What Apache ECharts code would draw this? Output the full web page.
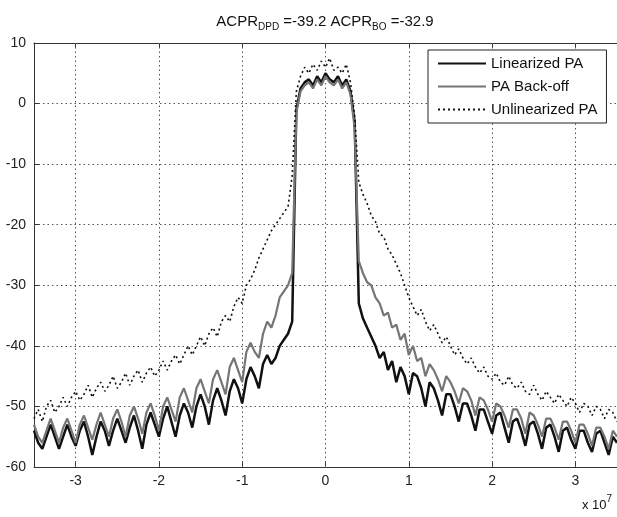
<!DOCTYPE html>
<html><head><meta charset="utf-8">
<script src="https://cdn.jsdelivr.net/npm/echarts@6/dist/echarts.min.js"></script>
<style>html,body{margin:0;padding:0;background:#fff}#c{width:617px;height:517px}</style>
</head><body><div id="c"></div>
<script>
// frequency (x 10^7 Hz)
const freq = [
-3.5,-3.45,-3.4,-3.35,-3.3,-3.25,-3.2,-3.15,-3.1,-3.05,
-3,-2.95,-2.9,-2.85,-2.8,-2.75,-2.7,-2.65,-2.6,-2.55,
-2.5,-2.45,-2.4,-2.35,-2.3,-2.25,-2.2,-2.15,-2.1,-2.05,
-2,-1.95,-1.9,-1.85,-1.8,-1.75,-1.7,-1.65,-1.6,-1.55,
-1.5,-1.45,-1.4,-1.35,-1.3,-1.25,-1.2,-1.15,-1.1,-1.05,
-1,-0.95,-0.9,-0.85,-0.8,-0.75,-0.7,-0.65,-0.6,-0.55,
-0.5,-0.45,-0.4,-0.35,-0.3,-0.25,-0.2,-0.15,-0.1,-0.05,
0,0.05,0.1,0.15,0.2,0.25,0.3,0.35,0.4,0.45,
0.5,0.55,0.6,0.65,0.7,0.75,0.8,0.85,0.9,0.95,
1,1.05,1.1,1.15,1.2,1.25,1.3,1.35,1.4,1.45,
1.5,1.55,1.6,1.65,1.7,1.75,1.8,1.85,1.9,1.95,
2,2.05,2.1,2.15,2.2,2.25,2.3,2.35,2.4,2.45,
2.5,2.55,2.6,2.65,2.7,2.75,2.8,2.85,2.9,2.95,
3,3.05,3.1,3.15,3.2,3.25,3.3,3.35,3.4,3.45,
3.5];

const linearizedPA = [
-54,-56,-57,-55,-53,-55,-57,-55,-53,-55,
-56.5,-54,-52.5,-55,-58,-55,-52.5,-54,-56.5,-54,
-52,-54,-56,-53.5,-51.5,-54,-57,-53,-51,-53,
-55,-52,-50,-52.5,-55,-51.5,-49.5,-51,-53.5,-50,
-48,-50,-53,-49,-47,-49,-51.5,-47.5,-45.5,-47,
-49.5,-45.5,-43.5,-45,-47,-43,-41.5,-43,-42,-40,
-39,-38,-36,-1,2.5,3.5,4,3,4.5,3.5,
5,4,3.5,4.5,3,4,2,-3,-33,-35.5,
-37,-38.5,-40,-42,-41,-44,-42.5,-46,-43.5,-45,
-48,-44.5,-45,-47,-50,-46,-47,-49,-51.5,-48,
-48,-50,-52.5,-49.5,-49.5,-51.5,-54,-50.5,-50.5,-52.5,
-54.5,-51.5,-51,-53.5,-56,-52.5,-52,-54,-56.5,-53,
-52.5,-54.5,-57,-53.5,-53,-55,-57.5,-54,-53.5,-55.5,
-57,-54,-54,-56,-57.5,-54.5,-54,-56,-58,-55,
-56];

const backoffPA = [
-53,-55,-56,-54,-52,-54,-56,-53.5,-52,-54,
-56,-53,-51.5,-53.5,-55.5,-53,-51,-53,-55,-52,
-50.5,-52.5,-55,-51.5,-50,-52,-54.5,-51,-49.5,-51.5,
-54,-50,-48.5,-50.5,-52.5,-48.5,-47,-49,-51,-47,
-45.5,-47.5,-49.5,-45.5,-44,-46,-48,-43.5,-42,-44,
-46,-41,-39.5,-41,-42,-38,-36,-37,-35,-32,
-31,-30,-28,-1.5,2,3,3.5,2.5,4,3,
4.5,3.5,3,4,2.5,3.5,1.5,-4,-26,-28,
-29.5,-30,-32,-33,-35,-34.5,-37,-36.5,-39,-38,
-41.5,-40,-42.5,-42,-45,-43,-44,-45.5,-47.5,-45,
-46,-47.5,-49.5,-47,-47.5,-49,-51.5,-48.5,-49,-50.5,
-52.5,-49.5,-50,-51.5,-53.5,-50.5,-50.5,-52,-54.5,-51,
-51.5,-53,-55,-52,-52,-53.5,-55.5,-52.5,-52.5,-54,
-56,-53,-53,-54.5,-56.5,-53.5,-53.5,-55,-57,-54,
-55];

const unlinearizedPA = [
-52,-50.5,-52.5,-50,-49,-51,-50,-48.5,-50,-48.5,
-47.5,-49,-48,-46.5,-48.5,-47,-46,-47.5,-46.5,-45,
-47,-46,-44.5,-46.5,-45,-44,-46,-44.5,-43.5,-45,
-44,-42.5,-44,-42.5,-41.5,-43,-41.5,-40,-41.5,-40,
-38.5,-40,-38,-37,-38.5,-36,-35,-36,-33.5,-32,
-33,-30,-29,-27.5,-25.5,-24,-22.5,-21,-20,-19,
-18,-17,-12,2,4.5,6,5,6.5,5.5,7,
6,7.5,5.5,6,5,6.5,3.5,-2,-13,-15,
-16.5,-18.5,-19.5,-21.5,-22,-24,-25,-26.5,-28,-30,
-32,-33.5,-35,-34,-36,-37.5,-36.5,-38,-39.5,-38.5,
-40,-41.5,-40.5,-42,-43,-42,-43.5,-44.5,-43.5,-45,
-45.5,-44.5,-46,-46.5,-45,-46.5,-47,-46,-47.5,-48,
-46.5,-48,-49,-47.5,-48.5,-49.5,-48,-49,-50,-48.5,
-49.5,-51,-49.5,-50,-51.5,-50,-50.5,-52,-50.5,-51,
-52.5];

const seriesNames = ['Linearized PA', 'PA Back-off', 'Unlinearized PA'];
const xTicks = [-3, -2, -1, 0, 1, 2, 3];
const xRange = [-3.5, 3.5];
const yRange = [-60, 10];
const yStep = 10;
const titleParts = ['ACPR', 'DPD', ' =-39.2 ACPR', 'BO', ' =-32.9'];

const FONT = '"Liberation Sans", Arial, sans-serif';
const pair = arr => freq.map((f, i) => [f, arr[i]]);

const chart = echarts.init(document.getElementById('c'), null, {renderer: 'canvas'});
const gridDash = [1.5, 3];
const axisCommon = {
  type: 'value', min: xRange[0], max: xRange[1],
  axisLine: {show: true, onZero: false, lineStyle: {color: '#333', width: 1}},
  axisTick: {show: true, inside: true, length: 5, customValues: xTicks, lineStyle: {color: '#333'}},
  splitLine: {show: false}
};
chart.setOption({
  animation: false,
  backgroundColor: '#fff',
  grid: {left: 34, top: 43, width: 584, height: 424, containLabel: false},
  xAxis: [
    Object.assign({}, axisCommon, {position: 'bottom',
      axisLabel: {customValues: xTicks, fontSize: 14, color: '#222', fontFamily: FONT, margin: 7}}),
    Object.assign({}, axisCommon, {position: 'top', axisLabel: {show: false}})
  ],
  yAxis: {
    type: 'value', min: yRange[0], max: yRange[1], interval: yStep,
    axisLine: {show: true, onZero: false, lineStyle: {color: '#333', width: 1}},
    axisTick: {show: true, inside: true, length: 5, lineStyle: {color: '#333'}},
    axisLabel: {fontSize: 14, color: '#222', fontFamily: FONT, margin: 8},
    splitLine: {show: true, lineStyle: {color: '#555', width: 1, type: gridDash}}
  },
  legend: {
    data: seriesNames, orient: 'vertical', left: 428, top: 50,
    itemWidth: 48, itemHeight: 14, itemGap: 8, padding: [6, 9, 6, 9],
    borderColor: '#222', borderWidth: 1, backgroundColor: '#fff',
    itemStyle: {opacity: 0},
    textStyle: {fontSize: 15, color: '#111', fontFamily: FONT}, selectedMode: false
  },
  graphic: [
    {type: 'text', x: 325, y: 14, z: 10,
      style: {
        text: '{m|' + titleParts[0] + '}{s|' + titleParts[1] + '}{m|' + titleParts[2] + '}{s|' + titleParts[3] + '}{m|' + titleParts[4] + '}',
        align: 'center', verticalAlign: 'top',
        rich: {
          m: {fontSize: 15, fontFamily: FONT, fill: '#111', lineHeight: 17, verticalAlign: 'top'},
          s: {fontSize: 10, fontFamily: FONT, fill: '#111', lineHeight: 12, padding: [8, 0, 0, 0], verticalAlign: 'top'}
        }
      }},
    {type: 'text', x: 582, y: 494, z: 10,
      style: {
        text: '{p|x 10}{q|7}', align: 'left', verticalAlign: 'top',
        rich: {
          p: {fontSize: 13, fontFamily: FONT, fill: '#111', lineHeight: 15, padding: [5, 0, 0, 0], verticalAlign: 'top'},
          q: {fontSize: 10, fontFamily: FONT, fill: '#111', lineHeight: 11, verticalAlign: 'top'}
        }
      }}
  ],
  series: [
    {name: 'gridx', type: 'line', data: [], silent: true, z: 1,
      markLine: {silent: true, z: 1, symbol: ['none', 'none'], label: {show: false},
        lineStyle: {color: '#555', width: 1, type: gridDash},
        data: xTicks.map(v => ({xAxis: v}))}},
    {name: seriesNames[0], type: 'line', data: pair(linearizedPA), symbol: 'none', z: 3,
      lineStyle: {color: '#111', width: 2.5}, itemStyle: {color: '#111'}},
    {name: seriesNames[1], type: 'line', data: pair(backoffPA), symbol: 'none', z: 4,
      lineStyle: {color: '#757575', width: 2.2}, itemStyle: {color: '#757575'}},
    {name: seriesNames[2], type: 'line', data: pair(unlinearizedPA), symbol: 'none', z: 5,
      lineStyle: {color: '#111', width: 1.6, type: [2, 3]}, itemStyle: {color: '#111'}}
  ]
});
</script></body></html>
